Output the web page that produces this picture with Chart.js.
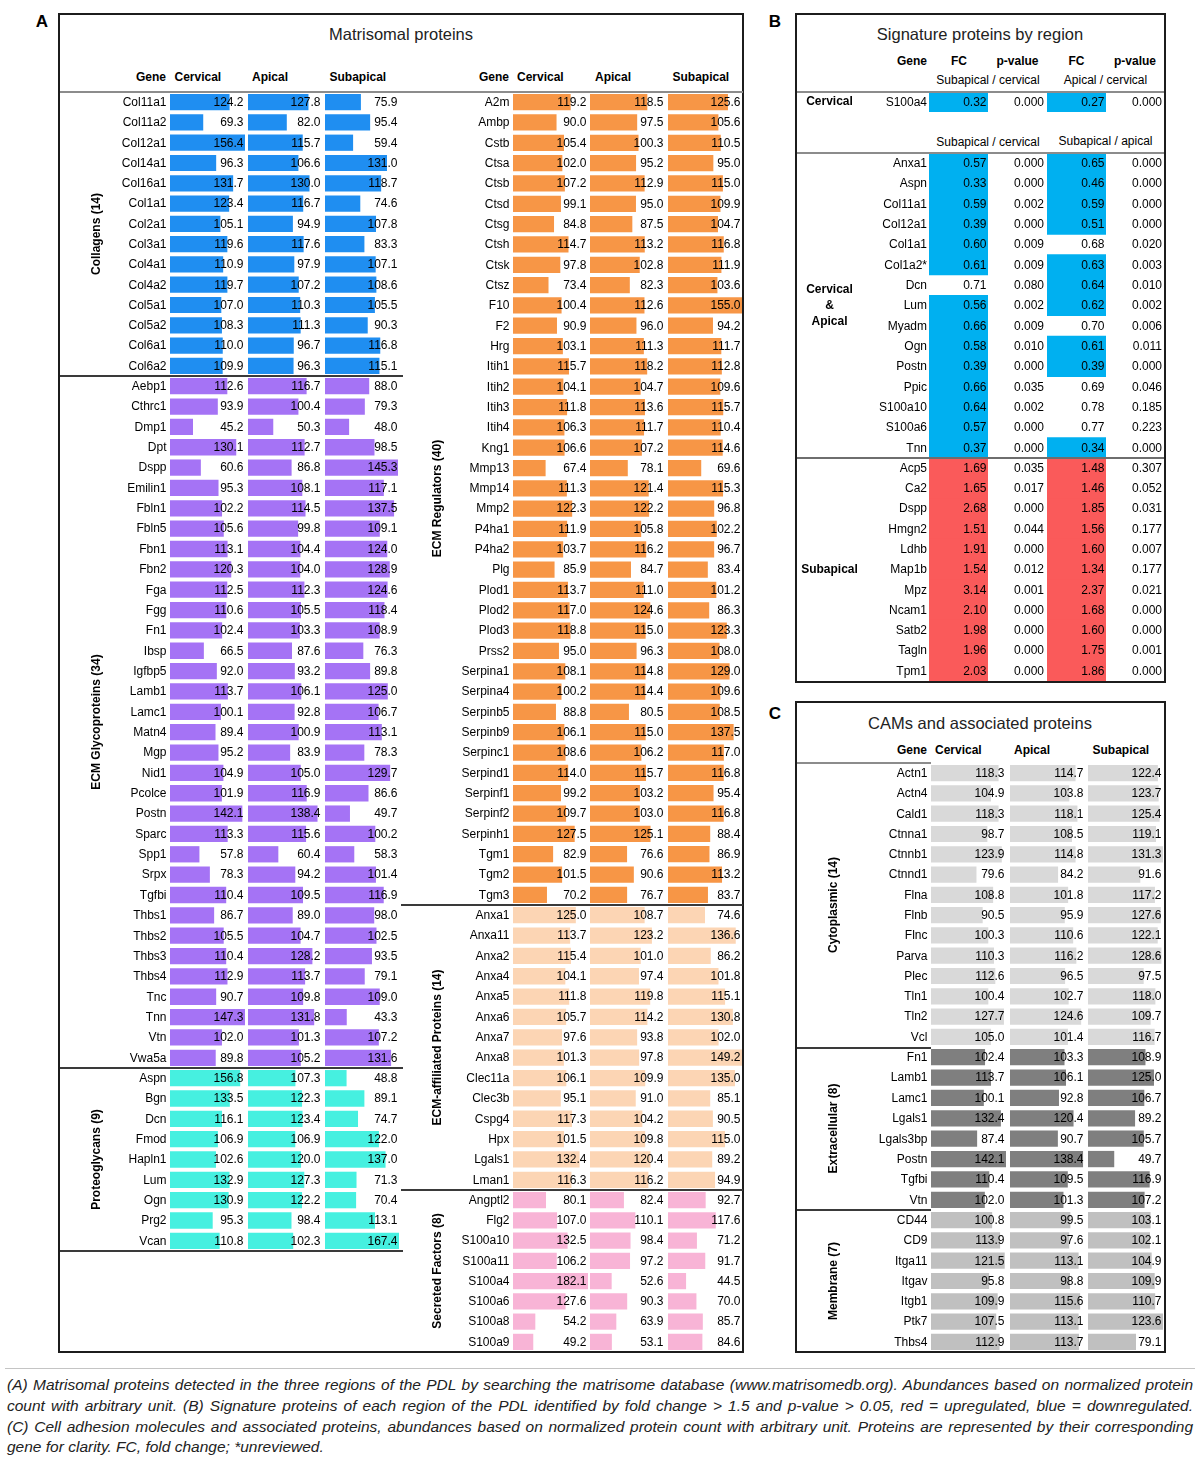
<!DOCTYPE html>
<html>
<head>
<meta charset="utf-8">
<title>Matrisomal proteins</title>
<script src="https://cdn.jsdelivr.net/npm/chart.js@4.4.1/dist/chart.umd.min.js"></script>
<style>
  body { margin: 0; background: #fff; }
  #page { position: relative; width: 1200px; height: 1463px; font-family: 'Liberation Sans', Arial, Helvetica, sans-serif; color: #000; }
  .box { position: absolute; border: 2px solid #1c1c1c; box-sizing: border-box; }
  .ln { position: absolute; height: 2px; z-index: 3; }
  .t { position: absolute; white-space: nowrap; line-height: 1; font-size: 12px; transform: translateY(-50%); z-index: 3; }
  .c { transform: translate(-50%, -50%); }
  .b { font-weight: bold; }
  .title { font-size: 16.5px; color: #222; }
  .pl { font-size: 17px; font-weight: bold; }
  .cap { position: absolute; left: 7px; width: 1186px; font-size: 15.5px; line-height: 1; font-style: italic; color: #222; white-space: nowrap; transform: translateY(-50%); }
  .just { text-align: justify; text-align-last: justify; }
</style>
</head>
<body>
<div id="page">
  <!-- panel frames -->
  <div class="box" style="left:58px;top:13px;width:686px;height:1340px"></div>
  <div class="box" style="left:795px;top:13px;width:371px;height:670px"></div>
  <div class="box" style="left:795px;top:701px;width:371px;height:652px"></div>

  <div class="t pl c" style="left:42px;top:21px">A</div>
  <div class="t pl c" style="left:775px;top:21px">B</div>
  <div class="t pl c" style="left:775px;top:713px">C</div>

  <div class="t title c" style="left:401px;top:34px">Matrisomal proteins</div>
  <div class="t title c" style="left:980px;top:34px">Signature proteins by region</div>
  <div class="t title c" style="left:980px;top:723px">CAMs and associated proteins</div>

  <!-- A headers -->
  <div class="t b" style="right:1034px;top:77px">Gene</div>
  <div class="t b" style="left:174.5px;top:77px">Cervical</div>
  <div class="t b" style="left:252px;top:77px">Apical</div>
  <div class="t b" style="left:329.5px;top:77px">Subapical</div>
  <div class="t b" style="right:691px;top:77px">Gene</div>
  <div class="t b" style="left:517px;top:77px">Cervical</div>
  <div class="t b" style="left:595px;top:77px">Apical</div>
  <div class="t b" style="left:672.5px;top:77px">Subapical</div>

  <!-- B headers -->
  <div class="t b" style="right:273px;top:61px">Gene</div>
  <div class="t b c" style="left:959px;top:61px">FC</div>
  <div class="t b c" style="left:1017.5px;top:61px">p-value</div>
  <div class="t b c" style="left:1076.5px;top:61px">FC</div>
  <div class="t b c" style="left:1135px;top:61px">p-value</div>
  <div class="t c" style="left:988px;top:80px">Subapical / cervical</div>
  <div class="t c" style="left:1105.5px;top:80px">Apical / cervical</div>
  <div class="t c" style="left:988px;top:142px">Subapical / cervical</div>
  <div class="t c" style="left:1105.5px;top:141px">Subapical / apical</div>

  <!-- C headers -->
  <div class="t b" style="right:273px;top:750px">Gene</div>
  <div class="t b" style="left:935px;top:750px">Cervical</div>
  <div class="t b" style="left:1014px;top:750px">Apical</div>
  <div class="t b" style="left:1092.5px;top:750px">Subapical</div>

  <!-- rules -->
  <div class="ln" style="left:60px;top:91px;width:683px;background:#8c8c8c"></div>
  <div class="ln" style="left:60px;top:375px;width:343px;background:#3a3a3a"></div>
  <div class="ln" style="left:60px;top:1066.5px;width:343px;background:#3a3a3a"></div>
  <div class="ln" style="left:60px;top:1249.5px;width:343px;background:#3a3a3a"></div>
  <div class="ln" style="left:401px;top:904px;width:342px;background:#3a3a3a"></div>
  <div class="ln" style="left:401px;top:1188.5px;width:342px;background:#3a3a3a"></div>
  <div class="ln" style="left:797px;top:91px;width:367px;background:#8c8c8c"></div>
  <div class="ln" style="left:797px;top:151.5px;width:367px;background:#8c8c8c"></div>
  <div class="ln" style="left:797px;top:456.5px;width:367px;background:#6e6e6e"></div>
  <div class="ln" style="left:797px;top:761.5px;width:134px;background:#8c8c8c"></div>
  <div class="ln" style="left:797px;top:1046.5px;width:134px;background:#3a3a3a"></div>
  <div class="ln" style="left:797px;top:1208.5px;width:134px;background:#3a3a3a"></div>

  <div class="ln" style="left:5px;top:1368px;width:1190px;height:1px;background:#c4c4c4"></div>
  <div class="cap just" style="top:1385px">(A) Matrisomal proteins detected in the three regions of the PDL by searching the matrisome database (www.matrisomedb.org). Abundances based on normalized protein</div>
  <div class="cap just" style="top:1406px">count with arbitrary unit. (B) Signature proteins of each region of the PDL identified by fold change &gt; 1.5 and p-value &gt; 0.05, red = upregulated, blue = downregulated.</div>
  <div class="cap just" style="top:1427px">(C) Cell adhesion molecules and associated proteins, abundances based on normalized protein count with arbitrary unit. Proteins are represented by their corresponding</div>
  <div class="cap" style="top:1447px">gene for clarity. FC, fold change; *unreviewed.</div>
</div>

<script>
// ---------- data: matrisome, left block ----------
const collagenGenes = ["Col11a1","Col11a2","Col12a1","Col14a1","Col16a1","Col1a1","Col2a1","Col3a1","Col4a1","Col4a2","Col5a1","Col5a2","Col6a1","Col6a2"];
const collagenCervical = [124.2,69.3,156.4,96.3,131.7,123.4,105.1,119.6,110.9,119.7,107.0,108.3,110.0,109.9];
const collagenApical = [127.8,82.0,115.7,106.6,130.0,116.7,94.9,117.6,97.9,107.2,110.3,111.3,96.7,96.3];
const collagenSubapical = [75.9,95.4,59.4,131.0,118.7,74.6,107.8,83.3,107.1,108.6,105.5,90.3,116.8,115.1];

const glycoGenes = ["Aebp1","Cthrc1","Dmp1","Dpt","Dspp","Emilin1","Fbln1","Fbln5","Fbn1","Fbn2","Fga","Fgg","Fn1","Ibsp","Igfbp5","Lamb1","Lamc1","Matn4","Mgp","Nid1","Pcolce","Postn","Sparc","Spp1","Srpx","Tgfbi","Thbs1","Thbs2","Thbs3","Thbs4","Tnc","Tnn","Vtn","Vwa5a"];
const glycoCervical = [112.6,93.9,45.2,130.1,60.6,95.3,102.2,105.6,113.1,120.3,112.5,110.6,102.4,66.5,92.0,113.7,100.1,89.4,95.2,104.9,101.9,142.1,113.3,57.8,78.3,110.4,86.7,105.5,110.4,112.9,90.7,147.3,102.0,89.8];
const glycoApical = [116.7,100.4,50.3,112.7,86.8,108.1,114.5,99.8,104.4,104.0,112.3,105.5,103.3,87.6,93.2,106.1,92.8,100.9,83.9,105.0,116.9,138.4,115.6,60.4,94.2,109.5,89.0,104.7,128.2,113.7,109.8,131.8,101.3,105.2];
const glycoSubapical = [88.0,79.3,48.0,98.5,145.3,117.1,137.5,109.1,124.0,128.9,124.6,118.4,108.9,76.3,89.8,125.0,106.7,113.1,78.3,129.7,86.6,49.7,100.2,58.3,101.4,116.9,98.0,102.5,93.5,79.1,109.0,43.3,107.2,131.6];

const proteoGenes = ["Aspn","Bgn","Dcn","Fmod","Hapln1","Lum","Ogn","Prg2","Vcan"];
const proteoCervical = [156.8,133.5,116.1,106.9,102.6,132.9,130.9,95.3,110.8];
const proteoApical = [107.3,122.3,123.4,106.9,120.0,127.3,122.2,98.4,102.3];
const proteoSubapical = [48.8,89.1,74.7,122.0,137.0,71.3,70.4,113.1,167.4];

// ---------- data: matrisome, right block ----------
const regulatorGenes = ["A2m","Ambp","Cstb","Ctsa","Ctsb","Ctsd","Ctsg","Ctsh","Ctsk","Ctsz","F10","F2","Hrg","Itih1","Itih2","Itih3","Itih4","Kng1","Mmp13","Mmp14","Mmp2","P4ha1","P4ha2","Plg","Plod1","Plod2","Plod3","Prss2","Serpina1","Serpina4","Serpinb5","Serpinb9","Serpinc1","Serpind1","Serpinf1","Serpinf2","Serpinh1","Tgm1","Tgm2","Tgm3"];
const regulatorCervical = [119.2,90.0,105.4,102.0,107.2,99.1,84.8,114.7,97.8,73.4,100.4,90.9,103.1,115.7,104.1,111.8,106.3,106.6,67.4,111.3,122.3,111.9,103.7,85.9,113.7,117.0,118.8,95.0,108.1,100.2,88.8,106.1,108.6,114.0,99.2,109.7,127.5,82.9,101.5,70.2];
const regulatorApical = [118.5,97.5,100.3,95.2,112.9,95.0,87.5,113.2,102.8,82.3,112.6,96.0,111.3,118.2,104.7,113.6,111.7,107.2,78.1,121.4,122.2,105.8,116.2,84.7,111.0,124.6,115.0,96.3,114.8,114.4,80.5,115.0,106.2,115.7,103.2,103.0,125.1,76.6,90.6,76.7];
const regulatorSubapical = [125.6,105.6,110.5,95.0,115.0,109.9,104.7,116.8,111.9,103.6,155.0,94.2,111.7,112.8,109.6,115.7,110.4,114.6,69.6,115.3,96.8,102.2,96.7,83.4,101.2,86.3,123.3,108.0,129.0,109.6,108.5,137.5,117.0,116.8,95.4,116.8,88.4,86.9,113.2,83.7];

const affiliatedGenes = ["Anxa1","Anxa11","Anxa2","Anxa4","Anxa5","Anxa6","Anxa7","Anxa8","Clec11a","Clec3b","Cspg4","Hpx","Lgals1","Lman1"];
const affiliatedCervical = [125.0,113.7,115.4,104.1,111.8,105.7,97.6,101.3,106.1,95.1,117.3,101.5,132.4,116.3];
const affiliatedApical = [108.7,123.2,101.0,97.4,119.8,114.2,93.8,97.8,109.9,91.0,104.2,109.8,120.4,116.2];
const affiliatedSubapical = [74.6,136.6,86.2,101.8,115.1,130.8,102.0,149.2,135.0,85.1,90.5,115.0,89.2,94.9];

const secretedGenes = ["Angptl2","Flg2","S100a10","S100a11","S100a4","S100a6","S100a8","S100a9"];
const secretedCervical = [80.1,107.0,132.5,106.2,182.1,127.6,54.2,49.2];
const secretedApical = [82.4,110.1,98.4,97.2,52.6,90.3,63.9,53.1];
const secretedSubapical = [92.7,117.6,71.2,91.7,44.5,70.0,85.7,84.6];

// ---------- data: signature proteins ----------
const sigGenes = ["S100a4","Anxa1","Aspn","Col11a1","Col12a1","Col1a1","Col1a2*","Dcn","Lum","Myadm","Ogn","Postn","Ppic","S100a10","S100a6","Tnn","Acp5","Ca2","Dspp","Hmgn2","Ldhb","Map1b","Mpz","Ncam1","Satb2","Tagln","Tpm1"];
const sigFc1 = [0.32,0.57,0.33,0.59,0.39,0.60,0.61,0.71,0.56,0.66,0.58,0.39,0.66,0.64,0.57,0.37,1.69,1.65,2.68,1.51,1.91,1.54,3.14,2.10,1.98,1.96,2.03];
const sigP1 = [0.000,0.000,0.000,0.002,0.000,0.009,0.009,0.080,0.002,0.009,0.010,0.000,0.035,0.002,0.000,0.000,0.035,0.017,0.000,0.044,0.000,0.012,0.001,0.000,0.000,0.000,0.000];
const sigFc2 = [0.27,0.65,0.46,0.59,0.51,0.68,0.63,0.64,0.62,0.70,0.61,0.39,0.69,0.78,0.77,0.34,1.48,1.46,1.85,1.56,1.60,1.34,2.37,1.68,1.60,1.75,1.86];
const sigP2 = [0.000,0.000,0.000,0.000,0.000,0.020,0.003,0.010,0.002,0.006,0.011,0.000,0.046,0.185,0.223,0.000,0.307,0.052,0.031,0.177,0.007,0.177,0.021,0.000,0.000,0.001,0.000];
// d = downregulated (blue), u = upregulated (red), "" = not marked
const sigMark1 = ["d","d","d","d","d","d","d","","d","d","d","d","d","d","d","d","u","u","u","u","u","u","u","u","u","u","u"];
const sigMark2 = ["d","d","d","d","d","","d","d","d","","d","d","","","","d","u","u","u","u","u","u","u","u","u","u","u"];
const sigGroupSizes = [1, 15, 11];

// ---------- data: CAMs ----------
const cytoGenes = ["Actn1","Actn4","Cald1","Ctnna1","Ctnnb1","Ctnnd1","Flna","Flnb","Flnc","Parva","Plec","Tln1","Tln2","Vcl"];
const cytoCervical = [118.3,104.9,118.3,98.7,123.9,79.6,108.8,90.5,100.3,110.3,112.6,100.4,127.7,105.0];
const cytoApical = [114.7,103.8,118.1,108.5,114.8,84.2,101.8,95.9,110.6,116.2,96.5,102.7,124.6,101.4];
const cytoSubapical = [122.4,123.7,125.4,119.1,131.3,91.6,117.2,127.6,122.1,128.6,97.5,118.0,109.7,116.7];

const extraGenes = ["Fn1","Lamb1","Lamc1","Lgals1","Lgals3bp","Postn","Tgfbi","Vtn"];
const extraCervical = [102.4,113.7,100.1,132.4,87.4,142.1,110.4,102.0];
const extraApical = [103.3,106.1,92.8,120.4,90.7,138.4,109.5,101.3];
const extraSubapical = [108.9,125.0,106.7,89.2,105.7,49.7,116.9,107.2];

const membraneGenes = ["CD44","CD9","Itga11","Itgav","Itgb1","Ptk7","Thbs4"];
const membraneCervical = [100.8,113.9,121.5,95.8,109.9,107.5,112.9];
const membraneApical = [99.5,97.6,113.1,98.8,115.6,113.1,113.7];
const membraneSubapical = [103.1,102.1,104.9,109.9,110.7,123.6,79.1];

// ---------- drawing ----------
const ROW = 20.33;
const FONT = "12px 'Liberation Sans', Arial, Helvetica, sans-serif";
const BOLD = "bold 12px 'Liberation Sans', Arial, Helvetica, sans-serif";
const BLUE = "#00b0f0", RED = "#fa5a5a";
const page = document.getElementById("page");

// writes gene names, values, p-values and group names next to the bars
const cellText = {
  id: "cellText",
  afterDatasetsDraw(chart) {
    const t = chart.data.datasets[0].text;
    if (!t) return;
    const ctx = chart.ctx, ys = chart.scales.y, a = chart.chartArea;
    ctx.save();
    ctx.fillStyle = "#000";
    ctx.textBaseline = "middle";
    ctx.textAlign = "right";
    ctx.font = FONT;
    chart.data.labels.forEach((g, i) => {
      const py = ys.getPixelForValue(i) + 0.5;
      if (t.genes) ctx.fillText(g, a.left - (t.geneDx || 3.5), py);
      ctx.fillText(t.values[i].toFixed(t.digits), a.right - 1.5, py);
      if (t.pvals) ctx.fillText(t.pvals[i].toFixed(3), a.right + 56, py);
    });
    if (t.group) {
      const lines = [].concat(t.group);
      const cy = (a.top + a.bottom) / 2;
      ctx.font = BOLD;
      ctx.textAlign = "center";
      if (t.rotate) {
        ctx.translate(t.groupX, cy);
        ctx.rotate(-Math.PI / 2);
        ctx.fillText(lines[0], 0, 0);
      } else {
        lines.forEach((s, k) => ctx.fillText(s, t.groupX, cy + (k - (lines.length - 1) / 2) * 16));
      }
    }
    ctx.restore();
  }
};
Chart.register(cellText);

function column(o) {
  const top = Math.round(o.bodyTop + o.start * ROW);
  const h = Math.round(o.bodyTop + (o.start + o.labels.length) * ROW) - top;
  const cv = document.createElement("canvas");
  cv.width = o.width;
  cv.height = h;
  cv.style.cssText = `position:absolute;left:${o.left}px;top:${top}px;width:${o.width}px;height:${h}px;z-index:1`;
  page.appendChild(cv);
  return new Chart(cv, {
    type: "bar",
    data: {
      labels: o.labels,
      datasets: [{ data: o.data, backgroundColor: o.colors, borderWidth: 0, barPercentage: 1, categoryPercentage: o.fill, text: o.text }]
    },
    options: {
      indexAxis: "y",
      responsive: false,
      animation: false,
      events: [],
      layout: { padding: { left: o.padL || 0, right: o.padR || 0, top: 0, bottom: 0 } },
      scales: { x: { display: false, min: 0, max: o.max }, y: { display: false } },
      plugins: { legend: { display: false }, tooltip: { enabled: false } }
    }
  });
}

// three region columns per group; each group has its own bar scale (0 .. group max)
function drawBlock(groups, bodyTop, cols, groupX) {
  let start = 0;
  groups.forEach(g => {
    const regions = [g.cervical, g.apical, g.subapical];
    const max = Math.max(...regions.flat());
    regions.forEach((vals, k) => {
      column({
        left: cols[k].left, width: cols[k].width, padL: cols[k].padL, bodyTop, start,
        labels: g.genes, data: vals, colors: g.color, max, fill: 0.8,
        text: { values: vals, digits: 1, genes: k === 0, group: k === 0 ? g.name : null, groupX, rotate: true }
      });
    });
    start += g.genes.length;
  });
}

drawBlock([
  { name: "Collagens (14)", genes: collagenGenes, cervical: collagenCervical, apical: collagenApical, subapical: collagenSubapical, color: "#1f8ef1" },
  { name: "ECM Glycoproteins (34)", genes: glycoGenes, cervical: glycoCervical, apical: glycoApical, subapical: glycoSubapical, color: "#a573f5" },
  { name: "Proteoglycans (9)", genes: proteoGenes, cervical: proteoCervical, apical: proteoApical, subapical: proteoSubapical, color: "#46f0e0" }
], 91.7, [{ left: 60, width: 185, padL: 110 }, { left: 248, width: 74 }, { left: 325, width: 74 }], 37);

drawBlock([
  { name: "ECM Regulators (40)", genes: regulatorGenes, cervical: regulatorCervical, apical: regulatorApical, subapical: regulatorSubapical, color: "#f79646" },
  { name: "ECM-affiliated Proteins (14)", genes: affiliatedGenes, cervical: affiliatedCervical, apical: affiliatedApical, subapical: affiliatedSubapical, color: "#fcd5b4" },
  { name: "Secreted Factors (8)", genes: secretedGenes, cervical: secretedCervical, apical: secretedApical, subapical: secretedSubapical, color: "#f8b4d6" }
], 91.7, [{ left: 402, width: 186, padL: 111 }, { left: 590, width: 75 }, { left: 668, width: 74 }], 36);

drawBlock([
  { name: "Cytoplasmic (14)", genes: cytoGenes, cervical: cytoCervical, apical: cytoApical, subapical: cytoSubapical, color: "#d9d9d9" },
  { name: "Extracellular (8)", genes: extraGenes, cervical: extraCervical, apical: extraApical, subapical: extraSubapical, color: "#7f7f7f" },
  { name: "Membrane (7)", genes: membraneGenes, cervical: membraneCervical, apical: membraneApical, subapical: membraneSubapical, color: "#c0c0c0" }
], 762.5, [{ left: 797, width: 209, padL: 134 }, { left: 1010, width: 75 }, { left: 1088, width: 75 }], 37);

// signature table: marked FC cells are full-width bars on a 0..1 scale
const sigGroupNames = [["Cervical"], ["Cervical", "&", "Apical"], ["Subapical"]];
const sigStartRows = [0, 3, 18];
let from = 0;
sigGroupSizes.forEach((n, gi) => {
  const sl = arr => arr.slice(from, from + n);
  const genes = sl(sigGenes);
  [[sigFc1, sigP1, sigMark1], [sigFc2, sigP2, sigMark2]].forEach(([fc, p, mark], k) => {
    const m = sl(mark);
    column({
      left: k === 0 ? 797 : 1047, width: k === 0 ? 249 : 117, padL: k === 0 ? 132 : 0, padR: 58,
      bodyTop: 91.7, start: sigStartRows[gi],
      labels: genes, data: m.map(v => v ? 1 : null), colors: m.map(v => v === "u" ? RED : BLUE), max: 1, fill: 1,
      text: { values: sl(fc), digits: 2, pvals: sl(p), genes: k === 0, geneDx: 2, group: k === 0 ? sigGroupNames[gi] : null, groupX: 32.5, rotate: false }
    });
  });
  from += n;
});
</script>
</body>
</html>
